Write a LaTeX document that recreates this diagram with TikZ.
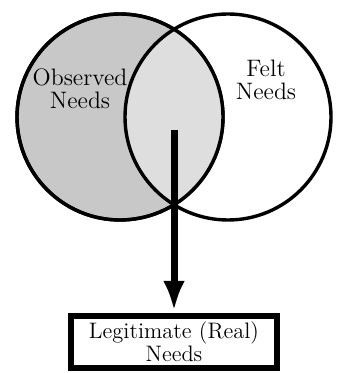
\documentclass[tikz,border=0pt]{standalone}
\usepackage{fontspec}
\usetikzlibrary{arrows.meta,positioning}

\definecolor{obsgray}{RGB}{200,200,200}
\definecolor{overlapgray}{RGB}{222,222,222}

\begin{document}
\begin{tikzpicture}[>=Latex,x=0.5pt,y=-0.5pt]
  \tikzstyle{ring}=[draw,circle,line width=1.7pt,minimum size=103pt,inner sep=0pt]
  \tikzstyle{lbl}=[align=center,font=\fontsize{11.9}{11.6}\selectfont\addfontfeatures{FakeBold=1.6}]
  \tikzstyle{outbox}=[draw,line width=3.2pt,minimum width=103pt,minimum height=26pt,inner sep=0pt,align=center,font=\fontsize{11.2}{11.6}\selectfont\addfontfeatures{FakeBold=1.6}]
  \useasboundingbox (0,0) rectangle (337,373);
  % the two sets
  \node[ring,fill=obsgray] (observed) at (120,117) {};
  \begin{scope}
    \clip (120,117) circle (51.5pt);
    \fill[overlapgray] (228,117) circle (51.5pt);
  \end{scope}
  \node[ring] (felt) at (228,117) {};
  \node[ring] at (observed) {};
  \node[lbl] (obstext) at (80,89) {Observed\\Needs};
  \node[lbl] (felttext) at (266,80) {Felt\\Needs};
  % result
  \node[outbox] (legit) at (174,342) {Legitimate (Real)\\Needs};
  \coordinate (start) at (174,130);
  \draw[line width=3.5pt,-{Latex[length=15pt,width=11pt]},shorten >=1pt] (start) -- (legit.north);
\end{tikzpicture}
\end{document}
